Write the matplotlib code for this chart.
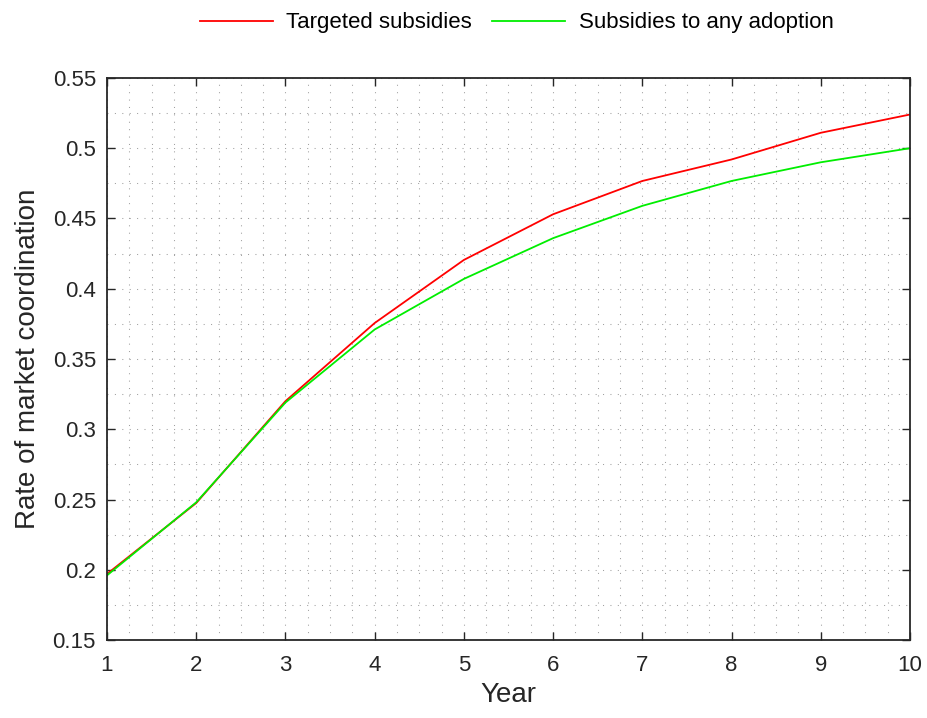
import matplotlib.pyplot as plt
from matplotlib.ticker import MultipleLocator

plt.rcParams["font.family"] = ["Liberation Sans", "DejaVu Sans"]

years = [1, 2, 3, 4, 5, 6, 7, 8, 9, 10]
targeted = [0.197, 0.2475, 0.320, 0.3756, 0.4205, 0.453, 0.4767, 0.492, 0.511, 0.524]
any_adoption = [0.196, 0.248, 0.319, 0.371, 0.407, 0.436, 0.459, 0.4767, 0.490, 0.500]
y_ticks = [0.15, 0.2, 0.25, 0.3, 0.35, 0.4, 0.45, 0.5, 0.55]
y_tick_labels = ["0.15", "0.2", "0.25", "0.3", "0.35", "0.4", "0.45", "0.5", "0.55"]


def main():
    fig = plt.figure(figsize=(9.28, 7.18), dpi=100)
    ax = fig.add_axes([0.1153, 0.1086, 0.8653, 0.7828])

    ax.plot(years, targeted, color="#ff0000", lw=1.3, label="Targeted subsidies")
    ax.plot(years, any_adoption, color="#00ee00", lw=1.3, label="Subsidies to any adoption")

    ax.set_xlim(1, 10)
    ax.set_ylim(0.15, 0.55)
    ax.xaxis.set_major_locator(MultipleLocator(1))
    ax.xaxis.set_minor_locator(MultipleLocator(0.25))
    ax.set_yticks(y_ticks)
    ax.set_yticklabels(y_tick_labels)
    ax.yaxis.set_minor_locator(MultipleLocator(0.025))

    dots = (0, (1, 6.1))
    ax.grid(True, which="both", linestyle=dots, color="#a0a0a0", lw=0.75)
    ax.tick_params(which="major", direction="in", length=6, width=1.0,
                   top=True, right=True, labelsize=16, colors="#262626")
    ax.tick_params(axis="y", pad=8)
    ax.tick_params(axis="x", pad=11)
    ax.tick_params(which="minor", length=0)
    for s in ax.spines.values():
        s.set_color("#262626")
        s.set_linewidth(1.3)

    ax.set_xlabel("Year", fontsize=20, color="#262626", labelpad=4)
    ax.set_ylabel("Rate of market coordination", fontsize=20, color="#262626", labelpad=8)

    ax.legend(loc="center", bbox_to_anchor=(0.51, 1.098), ncol=2,
              frameon=False, fontsize=16, handlelength=3.3, handletextpad=0.6,
              columnspacing=0.9, borderaxespad=0)

    fig.savefig("out.png", dpi=100)


if __name__ == "__main__":
    main()
